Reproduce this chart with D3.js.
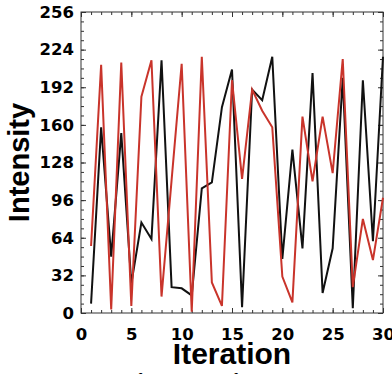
<!DOCTYPE html>
<html>
<head>
<meta charset="utf-8">
<script src="https://cdn.jsdelivr.net/npm/d3@7"></script>
<style>
	body { margin: 0; background: #fff; overflow: hidden; }
	svg { display: block; }
</style>
</head>
<body>
<svg></svg>
<script>
const svgWidth = 392;
const svgHeight = 374;

// iteration numbers
const iterations = d3.range(1, 31);

// black series
const blackValues = [8, 158, 48, 153, 25, 77, 63, 215, 22, 21,
	15, 106, 111, 175, 207, 5, 190, 181, 218, 46,
	139, 55, 204, 17, 55, 200, 4, 198, 61, 218];

// red series
const redValues = [57, 211, 3, 213, 6, 184, 215, 14, 113, 212,
	1, 218, 26, 6, 198, 114, 190, 172, 158, 31,
	9, 167, 112, 167, 119, 216, 22, 80, 45, 98];

const xTicks = [0, 5, 10, 15, 20, 25, 30];
const yTicks = [0, 32, 64, 96, 128, 160, 192, 224, 256];

const plot = { left: 81, right: 383, top: 12, bottom: 313 };

const svg = d3.select("svg")
	.attr("width", svgWidth)
	.attr("height", svgHeight);

const xScale = d3.scaleLinear()
	.domain([0, 30])
	.range([plot.left, plot.right]);
const yScale = d3.scaleLinear()
	.domain([0, 256])
	.range([plot.bottom, plot.top]);

// minor ticks, all four sides, pointing in
const minorX = d3.range(0, 31);
const minorY = d3.range(0, 257, 8);

function tickStyle (g) {
	g.select(".domain").remove();
	g.selectAll("line").attr("stroke", "#333").attr("stroke-width", 1);
}

svg.append("g")
	.attr("transform", `translate(0, ${plot.bottom})`)
	.call(d3.axisBottom(xScale).tickValues(minorX).tickSize(-3).tickFormat(""))
	.call(tickStyle);
svg.append("g")
	.attr("transform", `translate(0, ${plot.top})`)
	.call(d3.axisTop(xScale).tickValues(minorX).tickSize(-3).tickFormat(""))
	.call(tickStyle);
svg.append("g")
	.attr("transform", `translate(0, ${plot.top})`)
	.call(d3.axisTop(xScale).tickValues(xTicks).tickSize(-5).tickFormat(""))
	.call(tickStyle);
svg.append("g")
	.attr("transform", `translate(${plot.left}, 0)`)
	.call(d3.axisLeft(yScale).tickValues(minorY).tickSize(-3).tickFormat(""))
	.call(tickStyle);
svg.append("g")
	.attr("transform", `translate(${plot.right}, 0)`)
	.call(d3.axisRight(yScale).tickValues(minorY).tickSize(-3).tickFormat(""))
	.call(tickStyle);
svg.append("g")
	.attr("transform", `translate(${plot.right}, 0)`)
	.call(d3.axisRight(yScale).tickValues(yTicks).tickSize(-5).tickFormat(""))
	.call(tickStyle);

// major ticks with labels
svg.append("g")
	.attr("transform", `translate(0, ${plot.bottom})`)
	.call(d3.axisBottom(xScale).tickValues(xTicks).tickSize(-5).tickPadding(15))
	.call(tickStyle)
	.selectAll("text")
		.attr("font-family", "DejaVu Sans")
		.attr("font-weight", "bold")
		.attr("font-size", "16.5px")
		.attr("fill", "#000");

svg.append("g")
	.attr("transform", `translate(${plot.left}, 0)`)
	.call(d3.axisLeft(yScale).tickValues(yTicks).tickSize(-5).tickPadding(7))
	.call(tickStyle)
	.selectAll("text")
		.attr("font-family", "DejaVu Sans")
		.attr("font-weight", "bold")
		.attr("font-size", "16.5px")
		.attr("fill", "#000");

// frame
svg.append("rect")
	.attr("x", plot.left)
	.attr("y", plot.top)
	.attr("width", plot.right - plot.left)
	.attr("height", plot.bottom - plot.top)
	.attr("fill", "none")
	.attr("stroke", "#333")
	.attr("stroke-width", 1);

// lines
const line = d3.line()
	.x((d, i) => xScale(iterations[i]))
	.y(d => yScale(d));

svg.append("path")
	.datum(blackValues)
	.attr("d", line)
	.attr("fill", "none")
	.attr("stroke", "#111")
	.attr("stroke-width", 2)
	.attr("stroke-linejoin", "miter");

svg.append("path")
	.datum(redValues)
	.attr("d", line)
	.attr("fill", "none")
	.attr("stroke", "#c9342b")
	.attr("stroke-width", 2)
	.attr("stroke-linejoin", "miter");

// axis titles
svg.append("text")
	.text("Iteration")
	.attr("x", (plot.left + plot.right) / 2)
	.attr("y", 364)
	.attr("font-family", "Liberation Sans, Arial, sans-serif")
	.attr("font-weight", "bold")
	.attr("font-size", "30px")
	.attr("text-anchor", "middle");

svg.append("text")
	.text("Intensity")
	.attr("transform", "rotate(-90)")
	.attr("x", -(plot.top + plot.bottom) / 2)
	.attr("y", 28.5)
	.attr("font-family", "Liberation Sans, Arial, sans-serif")
	.attr("font-weight", "bold")
	.attr("font-size", "29px")
	.attr("text-anchor", "middle");

// caption line, mostly below the bottom edge
svg.append("text")
	.text("range of intensity of a pixel during the iterations")
	.attr("x", 76)
	.attr("y", 388)
	.attr("font-family", "Liberation Serif, serif")
	.attr("font-size", "20px");
</script>
</body>
</html>
